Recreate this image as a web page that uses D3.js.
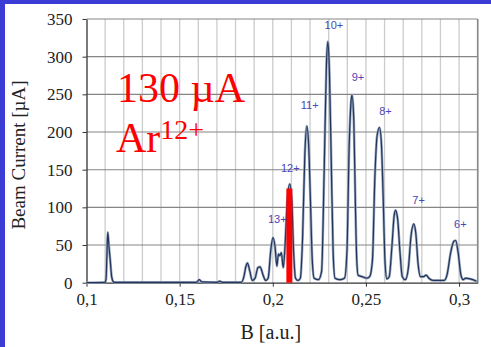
<!DOCTYPE html>
<html>
<head>
<meta charset="utf-8">
<script src="https://cdn.jsdelivr.net/npm/d3@7"></script>
<style>
    html, body { margin: 0; padding: 0; background: #ffffff; }
    #frame { position: relative; width: 491px; height: 347px; overflow: hidden; }
</style>
</head>
<body>
<div id="frame"><svg id="drawing_region"></svg></div>
<script>
// spectrum: magnetic field B [a.u.] vs beam current [uA]
const bField = [
    0.1000, 0.1100, 0.1105, 0.1110, 0.1114, 0.1120, 0.1128, 0.1135, 0.1145, 0.1150,
    0.1590, 0.1605, 0.1620, 0.1700, 0.1715, 0.1730,
    0.1830, 0.1845, 0.1856, 0.1864, 0.1876, 0.1890, 0.1905, 0.1920, 0.1932, 0.1948, 0.1962,
    0.1975, 0.1990, 0.2001, 0.2012, 0.2022, 0.2030, 0.2038, 0.2046, 0.2056,
    0.2065, 0.2078, 0.2091, 0.2102, 0.2112, 0.2122, 0.2135,
    0.2148, 0.2160, 0.2172, 0.2183, 0.2193, 0.2202, 0.2212, 0.2222,
    0.2245, 0.2262, 0.2276, 0.2288, 0.2296, 0.2304, 0.2314, 0.2324, 0.2334,
    0.2360, 0.2385, 0.2398, 0.2410, 0.2420, 0.2425, 0.2435, 0.2443, 0.2450, 0.2458,
    0.2480, 0.2505, 0.2520, 0.2535, 0.2548, 0.2560, 0.2573, 0.2583, 0.2593, 0.2602, 0.2612,
    0.2625, 0.2640, 0.2652, 0.2659, 0.2670, 0.2683, 0.2695,
    0.2712, 0.2728, 0.2742, 0.2757, 0.2768, 0.2780, 0.2792,
    0.2808, 0.2823, 0.2838, 0.2860, 0.2920,
    0.2935, 0.2955, 0.2972, 0.2982, 0.2995, 0.3010, 0.3022,
    0.3035, 0.3060, 0.3094
];
const current = [
    0, 0.5, 5, 40, 67, 50, 28, 8, 1, 0.5,
    0.5, 4, 1, 0.5, 2, 0.5,
    0.5, 8, 22, 26, 16, 3, 6, 20, 21, 10, 3,
    6, 45, 60, 48, 22, 38, 36, 40, 20,
    45, 110, 131, 110, 40, 6, 3,
    6, 60, 170, 208, 180, 110, 30, 6,
    4, 15, 150, 290, 320, 280, 160, 40, 6,
    4, 6, 40, 180, 240, 249, 215, 110, 35, 10,
    8, 6, 8, 30, 140, 195, 206, 185, 110, 30, 5,
    8, 50, 90, 96, 85, 40, 8,
    4, 20, 62, 78, 65, 25, 8,
    8, 10, 6, 3, 3,
    10, 40, 55, 56, 40, 10, 4,
    6, 5, 2
];

// charge state labels (anchored in data units)
const chargeLabels = ['13+', '12+', '11+', '10+', '9+', '8+', '7+', '6+'];
const labelB = [0.2024, 0.2094, 0.2198, 0.2328, 0.2457, 0.2605, 0.2783, 0.3007];
const labelI = [79, 147, 230, 337, 268, 222, 104, 72];

// selected Ar12+ beam
const markB = [0.2089];
const markI = [125];

const xTicks = [0.1, 0.15, 0.2, 0.25, 0.3];
const yTicks = [0, 50, 100, 150, 200, 250, 300, 350];

const width = 491, height = 347;
const margin = {top: 19, right: 13.3, bottom: 64.3, left: 86.5};
const innerW = width - margin.left - margin.right;
const innerH = height - margin.top - margin.bottom;
const serif = 'Liberation Serif, Times New Roman, serif';

const svg = d3.select('#drawing_region')
    .attr('width', width)
    .attr('height', height);

// blue slide border (top and left)
svg.append('rect').attr('x', 0).attr('y', 0).attr('width', width).attr('height', 4).attr('fill', '#3b3bd6');
svg.append('rect').attr('x', 0).attr('y', 0).attr('width', 5).attr('height', height).attr('fill', '#3b3bd6');

const chart = svg.append('g')
    .attr('transform', `translate(${margin.left}, ${margin.top})`);

const xscale = d3.scaleLinear().domain([0.1, 0.31]).range([0, innerW]);
const yscale = d3.scaleLinear().domain([0, 350]).range([innerH, 0]);

// vertical grid every 0.01
chart.append('g')
    .selectAll('line')
    .data(d3.range(11, 32).map(d => d / 100))
    .join('line')
    .attr('x1', d => xscale(d)).attr('x2', d => xscale(d))
    .attr('y1', 0).attr('y2', innerH)
    .attr('stroke', '#cccccc')
    .attr('stroke-width', 1.3);

// horizontal grid
chart.append('g')
    .selectAll('line')
    .data(yTicks.slice(1))
    .join('line')
    .attr('x1', 0).attr('x2', innerW)
    .attr('y1', d => yscale(d)).attr('y2', d => yscale(d))
    .attr('stroke', '#858585')
    .attr('stroke-width', 1.1);

// right frame
chart.append('line')
    .attr('x1', innerW).attr('x2', innerW)
    .attr('y1', 0).attr('y2', innerH)
    .attr('stroke', '#8a8a8a')
    .attr('stroke-width', 1.6);

// axes
const xaxis = d3.axisBottom(xscale)
    .tickValues(xTicks)
    .tickFormat(d => d3.format('.2~f')(d).replace('.', ','))
    .tickSize(4)
    .tickSizeOuter(0)
    .tickPadding(6);

const yaxis = d3.axisLeft(yscale)
    .tickValues(yTicks)
    .tickSize(4)
    .tickSizeOuter(0)
    .tickPadding(10);

const xg = chart.append('g')
    .attr('transform', `translate(0, ${innerH})`)
    .call(xaxis);
const yg = chart.append('g').call(yaxis);

[xg, yg].forEach(g => {
    g.attr('font-family', null).attr('font-size', null);
    g.select('.domain').attr('stroke', '#333333').attr('stroke-width', 1.3);
    g.selectAll('.tick line').attr('stroke', '#333333');
    g.selectAll('.tick text')
        .attr('fill', '#222222')
        .attr('font-family', serif)
        .attr('font-size', 17)
        .attr('style', 'font-family: Liberation Serif, serif; font-size: 17px;');
});

// spectrum line
const points = bField.map((b, i) => [b, current[i]]);
const line = d3.line()
    .x(d => xscale(d[0]))
    .y(d => yscale(d[1]))
    .curve(d3.curveMonotoneX);

chart.append('path')
    .datum(points)
    .attr('d', line)
    .attr('fill', 'none')
    .attr('stroke', '#9aa8bf')
    .attr('stroke-width', 2.6)
    .attr('stroke-linejoin', 'round');

chart.append('path')
    .datum(points)
    .attr('d', line)
    .attr('fill', 'none')
    .attr('stroke', '#22345a')
    .attr('stroke-width', 1.2)
    .attr('stroke-linejoin', 'round');

// red bar
const barW = 6;
chart.selectAll('rect.mark')
    .data(markB.map((b, i) => ({b: b, v: markI[i]})))
    .join('rect')
    .attr('class', 'mark')
    .attr('x', d => xscale(d.b) - barW / 2)
    .attr('y', d => yscale(d.v))
    .attr('width', barW)
    .attr('height', d => innerH - yscale(d.v))
    .attr('fill', '#ff0000');

// charge labels
chart.append('g')
    .selectAll('text')
    .data(chargeLabels.map((t, i) => ({t: t, b: labelB[i], v: labelI[i]})))
    .join('text')
    .attr('x', d => xscale(d.b))
    .attr('y', d => yscale(d.v))
    .attr('text-anchor', 'middle')
    .attr('fill', '#4a45b8')
    .style('font-family', 'Liberation Sans, Arial, sans-serif')
    .style('font-size', '11px')
    .text(d => d.t);

// big red annotation
svg.append('text')
    .attr('x', 117).attr('y', 101.7)
    .attr('fill', '#ff0000')
    .style('font-family', serif)
    .style('font-size', '42px')
    .text('130 µA');

const ar = svg.append('text')
    .attr('x', 116).attr('y', 151.7)
    .attr('fill', '#ff0000')
    .style('font-family', serif)
    .style('font-size', '42px');
ar.append('tspan').text('Ar');
ar.append('tspan').attr('dy', -12.7).style('font-size', '28px').text('12+');

// axis titles
svg.append('text')
    .attr('x', margin.left + xscale(0.2) - 2)
    .attr('y', 338.5)
    .attr('text-anchor', 'middle')
    .attr('fill', '#222222')
    .style('font-family', serif)
    .style('font-size', '20px')
    .text('B [a.u.]');

svg.append('text')
    .attr('transform', `translate(24.5, 155) rotate(-90)`)
    .attr('text-anchor', 'middle')
    .attr('fill', '#222222')
    .style('font-family', serif)
    .style('font-size', '19px')
    .text('Beam Current [µA]');
</script>
</body>
</html>
